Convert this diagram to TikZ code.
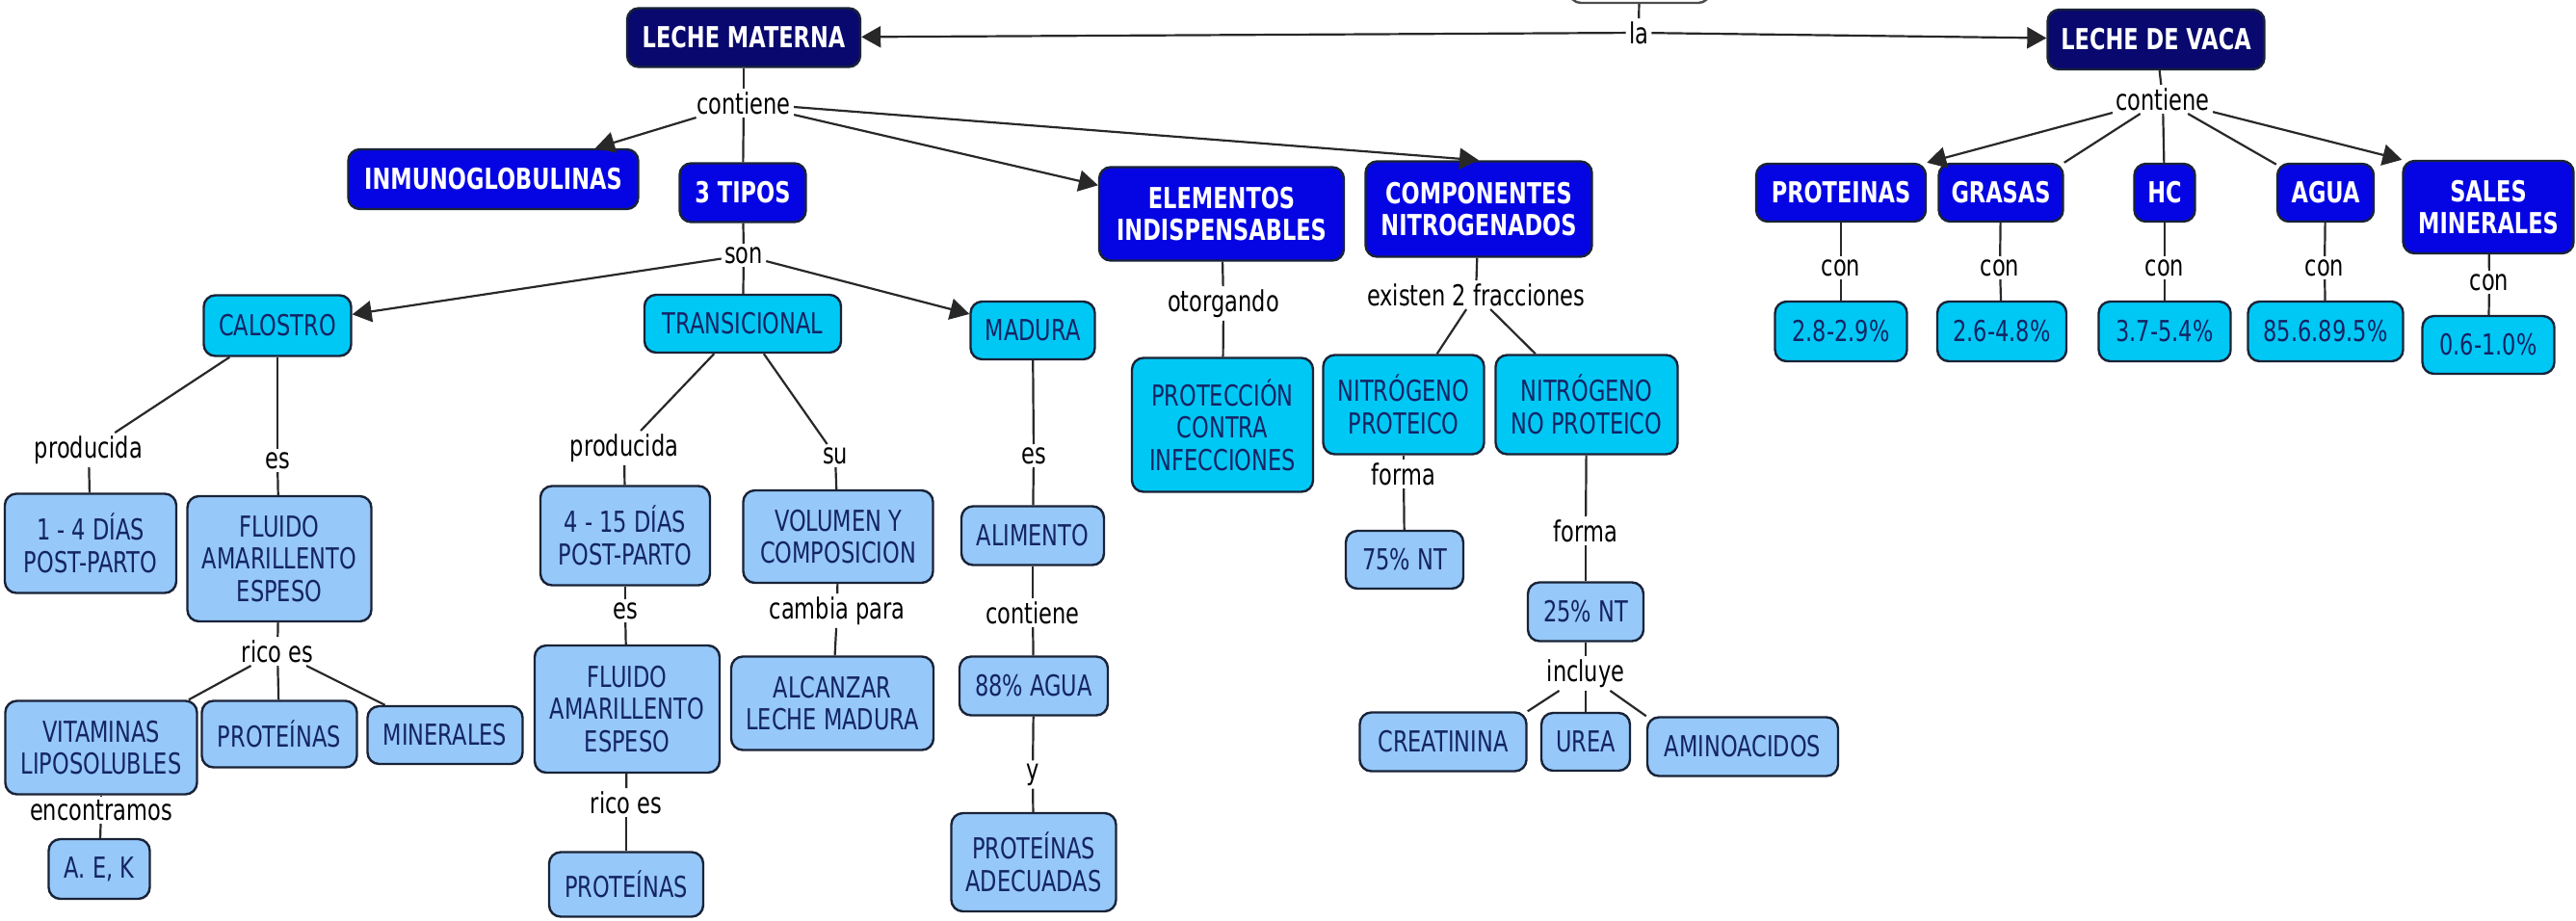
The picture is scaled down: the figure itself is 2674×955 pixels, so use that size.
\documentclass[tikz,border=0pt]{standalone}
\usepackage{fontspec}
\setmainfont{DejaVu Sans}[FakeStretch=0.75]
\usetikzlibrary{arrows.meta}
\definecolor{navyc}{RGB}{8,8,110}
\definecolor{bblue}{RGB}{5,5,228}
\definecolor{cyanc}{RGB}{0,200,245}
\definecolor{lightb}{RGB}{150,200,250}
\definecolor{txtc}{RGB}{20,36,100}
\definecolor{boxline}{RGB}{25,35,55}
\definecolor{linec}{RGB}{40,40,40}
\newcommand\mfont{\fontsize{15}{16.8}\selectfont}
\begin{document}
\begin{tikzpicture}[x=0.5pt,y=-0.5pt,
  box/.style={draw=boxline, line width=1.2pt, rounded corners=6pt, align=center, inner sep=2pt, font=\mfont},
  sz/.style 2 args={minimum width=#1*0.5pt, minimum height=#2*0.5pt},
  navybox/.style={box, fill=navyc, text=white, font=\mfont\bfseries},
  bluebox/.style={box, fill=bblue, text=white, font=\mfont\bfseries},
  cyanbox/.style={box, fill=cyanc, text=txtc},
  lightbox/.style={box, fill=lightb, text=txtc},
  lab/.style={inner sep=1.5pt, text=black, font=\mfont},
  conn/.style={draw=linec, line width=1.1pt},
  arr/.style={conn, -{Triangle[length=10pt,width=11pt]}},
  rarr/.style={conn, {Triangle[length=10pt,width=11pt]}-},
]
\useasboundingbox (0,0) rectangle (2674,955);
\clip (0,0) rectangle (2674,955);
\fill[white] (0,0) rectangle (2674,955);

% top level
\node[draw=gray!60!black, fill=white, line width=1.2pt, rounded corners=6pt, sz={146}{80}] (topbox) at (1702,-37) {};
\node[lab] (la) at (1701,34) {la};
\node[navybox, sz={242}{61}] (lm) at (772,39) {LECHE MATERNA};
\node[navybox, sz={225}{62}] (lv) at (2238,41) {LECHE DE VACA};

% leche materna level
\node[lab] (contL) at (772,107) {contiene};
\node[bluebox, sz={301}{62}] (inm) at (512,186) {INMUNOGLOBULINAS};
\node[bluebox, sz={131}{61}] (tipos) at (771,200) {3 TIPOS};
\node[bluebox, sz={254}{97}] (elem) at (1268,222) {ELEMENTOS\\INDISPENSABLES};
\node[bluebox, sz={235}{99}] (comp) at (1535,217) {COMPONENTES\\NITROGENADOS};
\node[lab] (son) at (772,265) {son};

% tipos
\node[cyanbox, sz={153}{63}] (cal) at (288,338) {CALOSTRO};
\node[cyanbox, sz={204}{60}] (trans) at (771,336) {TRANSICIONAL};
\node[cyanbox, sz={129}{60}] (mad) at (1072,343) {MADURA};

% calostro
\node[lab] (prodC) at (92,467) {producida};
\node[lab] (esC) at (288,478) {es};
\node[lightbox, sz={178}{103}] (dias1) at (94,564) {1 - 4 DÍAS\\POST-PARTO};
\node[lightbox, sz={191}{130}] (flu1) at (290,580) {FLUIDO\\AMARILLENTO\\ESPESO};
\node[lab] (ricoC) at (288,676) {rico es};
\node[lightbox, sz={199}{97}] (vit) at (105,776) {VITAMINAS\\LIPOSOLUBLES};
\node[lightbox, sz={161}{69}] (prot1) at (290,762) {PROTEÍNAS};
\node[lightbox, sz={161}{60}] (mine) at (462,763) {MINERALES};
\node[lab] (enc) at (105,841) {encontramos};
\node[lightbox, sz={105}{62}] (aek) at (103,902) {A. E, K};

% transicional
\node[lab] (prodT) at (648,465) {producida};
\node[lightbox, sz={176}{103}] (dias2) at (649,556) {4 - 15 DÍAS\\POST-PARTO};
\node[lab] (esT) at (649,634) {es};
\node[lightbox, sz={192}{132}] (flu2) at (651,736) {FLUIDO\\AMARILLENTO\\ESPESO};
\node[lab] (ricoT) at (650,833) {rico es};
\node[lightbox, sz={160}{67}] (prot2) at (650,918) {PROTEÍNAS};
\node[lab] (su) at (867,473) {su};
\node[lightbox, sz={197}{96}] (vol) at (870,557) {VOLUMEN Y\\COMPOSICION};
\node[lab] (camb) at (869,634) {cambia para};
\node[lightbox, sz={210}{97}] (alc) at (864,730) {ALCANZAR\\LECHE MADURA};

% madura
\node[lab] (esM) at (1073,473) {es};
\node[lightbox, sz={148}{61}] (alim) at (1072,556) {ALIMENTO};
\node[lab] (contM) at (1072,636) {contiene};
\node[lightbox, sz={154}{61}] (agua88) at (1073,712) {88\% AGUA};
\node[lab] (yM) at (1072,804) {y};
\node[lightbox, sz={171}{102}] (protad) at (1073,895) {PROTEÍNAS\\ADECUADAS};

% elementos
\node[lab] (otorg) at (1270,315) {otorgando};
\node[cyanbox, sz={188}{139}] (protec) at (1269,441) {PROTECCIÓN\\CONTRA\\INFECCIONES};

% componentes
\node[lab] (exist) at (1532,306) {existen 2 fracciones};
\node[cyanbox, sz={167}{103}] (np) at (1457,420) {NITRÓGENO\\PROTEICO};
\node[cyanbox, sz={189}{103}] (nnp) at (1647,420) {NITRÓGENO\\NO PROTEICO};
\node[lab] (formaL) at (1457,492) {forma};
\node[lightbox, sz={122}{60}] (nt75) at (1458,581) {75\% NT};
\node[lab] (formaR) at (1646,551) {forma};
\node[lightbox, sz={120}{61}] (nt25) at (1646,635) {25\% NT};
\node[lab] (incl) at (1646,699) {incluye};
\node[lightbox, sz={173}{61}] (creat) at (1498,770) {CREATININA};
\node[lightbox, sz={92}{60}] (urea) at (1646,770) {UREA};
\node[lightbox, sz={198}{61}] (amino) at (1809,775) {AMINOACIDOS};

% leche de vaca
\node[lab] (contV) at (2245,103) {contiene};
\node[bluebox, sz={176}{60}] (prot) at (1911,200) {PROTEINAS};
\node[bluebox, sz={129}{60}] (gras) at (2077,200) {GRASAS};
\node[bluebox, sz={63}{60}] (hc) at (2247,200) {HC};
\node[bluebox, sz={100}{60}] (agua) at (2414,200) {AGUA};
\node[bluebox, sz={177}{96}] (sales) at (2583,215) {SALES\\MINERALES};
\node[lab] (conP) at (1911,278) {con};
\node[lab] (conG) at (2076,278) {con};
\node[lab] (conH) at (2247,278) {con};
\node[lab] (conA) at (2413,278) {con};
\node[lab] (conS) at (2584,293) {con};
\node[cyanbox, sz={137}{62}] (v1) at (1911,344) {2.8-2.9\%};
\node[cyanbox, sz={134}{62}] (v2) at (2078,344) {2.6-4.8\%};
\node[cyanbox, sz={137}{62}] (v3) at (2247,344) {3.7-5.4\%};
\node[cyanbox, sz={161}{62}] (v4) at (2414,344) {85.6.89.5\%};
\node[cyanbox, sz={137}{60}] (v5) at (2583,358) {0.6-1.0\%};

% connectors
\draw[conn] (topbox) -- (la);
\draw[rarr] (lm) -- (la);
\draw[arr] (la) -- (lv);

\draw[conn] (lm) -- (contL);
\draw[arr] (contL) -- (inm);
\draw[conn] (contL) -- (tipos);
\draw[arr] (contL) -- (elem);
\draw[arr] (contL) -- (comp.north);
\draw[conn] (tipos) -- (son);
\draw[arr] (son) -- (cal);
\draw[conn] (son) -- (trans);
\draw[arr] (son) -- (mad);

\draw[conn] (cal) -- (prodC);
\draw[conn] (prodC) -- (dias1);
\draw[conn] (cal) -- (esC);
\draw[conn] (esC) -- (flu1);
\draw[conn] (flu1) -- (ricoC);
\draw[conn] (ricoC) -- (vit);
\draw[conn] (ricoC) -- (prot1);
\draw[conn] (ricoC) -- (mine);
\draw[conn] (vit) -- (enc);
\draw[conn] (enc) -- (aek);

\draw[conn] (trans) -- (prodT);
\draw[conn] (prodT) -- (dias2);
\draw[conn] (dias2) -- (esT);
\draw[conn] (esT) -- (flu2);
\draw[conn] (flu2) -- (ricoT);
\draw[conn] (ricoT) -- (prot2);
\draw[conn] (trans) -- (su);
\draw[conn] (su) -- (vol);
\draw[conn] (vol) -- (camb);
\draw[conn] (camb) -- (alc);

\draw[conn] (mad) -- (esM);
\draw[conn] (esM) -- (alim);
\draw[conn] (alim) -- (contM);
\draw[conn] (contM) -- (agua88);
\draw[conn] (agua88) -- (yM);
\draw[conn] (yM) -- (protad);

\draw[conn] (elem) -- (otorg);
\draw[conn] (otorg) -- (protec);

\draw[conn] (comp) -- (exist);
\draw[conn] (exist) -- (np);
\draw[conn] (exist) -- (nnp);
\draw[conn] (np) -- (formaL);
\draw[conn] (formaL) -- (nt75);
\draw[conn] (nnp) -- (formaR);
\draw[conn] (formaR) -- (nt25);
\draw[conn] (nt25) -- (incl);
\draw[conn] (incl) -- (creat.north east);
\draw[conn] (incl) -- (urea);
\draw[conn] (incl) -- (amino.north west);

\draw[conn] (lv) -- (contV);
\draw[arr] (contV) -- (prot.north east);
\draw[conn] (contV) -- (gras.north east);
\draw[conn] (contV) -- (hc);
\draw[conn] (contV) -- (agua);
\draw[arr] (contV) -- (sales.north west);
\draw[conn] (prot) -- (conP);
\draw[conn] (conP) -- (v1);
\draw[conn] (gras) -- (conG);
\draw[conn] (conG) -- (v2);
\draw[conn] (hc) -- (conH);
\draw[conn] (conH) -- (v3);
\draw[conn] (agua) -- (conA);
\draw[conn] (conA) -- (v4);
\draw[conn] (sales) -- (conS);
\draw[conn] (conS) -- (v5);
\end{tikzpicture}
\end{document}
